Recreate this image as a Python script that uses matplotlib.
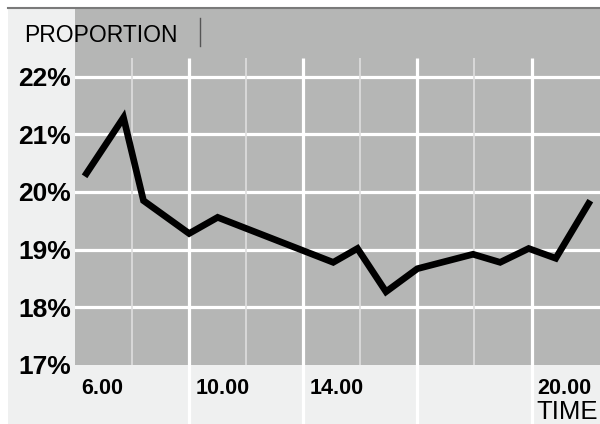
import matplotlib
matplotlib.use("Agg")
import matplotlib.pyplot as plt
from matplotlib.lines import Line2D
from matplotlib.patches import Rectangle
from matplotlib.transforms import ScaledTranslation

plt.rcParams['font.family'] = ['Liberation Sans', 'DejaVu Sans']

# time of day (hours) and proportion (%)
hours = [6.4, 7.7, 8.4, 10.0, 11.0, 15.05, 15.9, 16.9, 18.0, 19.95, 20.9, 21.9, 22.85, 24.0]
share = [20.32, 21.29, 19.85, 19.28, 19.56, 18.78, 19.02, 18.27, 18.67, 18.92, 18.78, 19.02, 18.85, 19.80]

major_x = [10, 14, 18, 22]
minor_x = [8, 12, 16, 20]
xtick_pos = [6, 10, 14, 22]
xtick_labels = ['6.00', '10.00', '14.00', '20.00']
ytick_pos = [17, 18, 19, 20, 21, 22]
ytick_labels = ['17%', '18%', '19%', '20%', '21%', '22%']

W, H = 600, 424
fig = plt.figure(figsize=(6, 4.24), dpi=100)
fig.patch.set_facecolor('white')

# light panel behind everything
fig.patches.append(Rectangle((8 / W, 0), 1 - 8 / W, 1 - 8 / H, transform=fig.transFigure,
                             facecolor='#eff0f0', edgecolor='none', zorder=-5))
fig.lines.append(Line2D([8 / W, 1], [1 - 8 / H, 1 - 8 / H], transform=fig.transFigure,
                        color='#7a7a7a', lw=1.5, zorder=5))

ax = fig.add_axes([75 / W, 59 / H, 1 - 75 / W, (365 - 8) / H])
ax.set_facecolor('#b5b6b5')
ax.set_xlim(6, 24.4)
ax.set_ylim(17, 23.19)
for s in ax.spines.values():
    s.set_visible(False)

# grid
for y in ytick_pos[1:]:
    ax.axhline(y, color='white', lw=2.3, zorder=1)
ax.vlines(minor_x, 17, 22.33, color='#dedede', lw=1.2, zorder=1)
ax.vlines(major_x, 15.9, 22.33, color='white', lw=2.3, zorder=1, clip_on=False)

ax.plot(hours, share, color='black', lw=4.8, solid_joinstyle='miter', zorder=3)

ax.set_yticks(ytick_pos, ytick_labels)
ax.set_xticks(xtick_pos, xtick_labels)
ax.tick_params(axis='y', length=0, pad=3, labelsize=19)
ax.tick_params(axis='x', length=0, pad=9, labelsize=15.5)
for lab in ax.get_yticklabels():
    lab.set_fontweight('bold')
for lab in ax.get_xticklabels():
    lab.set_fontweight('bold')
    lab.set_horizontalalignment('left')
    lab.set_transform(lab.get_transform() + ScaledTranslation(6 / 100, 0, fig.dpi_scale_trans))

fig.text(24 / W, 1 - 42 / H, 'PROPORTION', fontsize=16.5, va='baseline', ha='left', zorder=6)
fig.lines.append(Line2D([200 / W, 200 / W], [1 - 18 / H, 1 - 46 / H], transform=fig.transFigure,
                        color='#555555', lw=1, zorder=6))
fig.text(598 / W, 1 - 419 / H, 'TIME', fontsize=18.5, va='baseline', ha='right', zorder=6)

fig.savefig('out.png', dpi=100, facecolor=fig.get_facecolor())
